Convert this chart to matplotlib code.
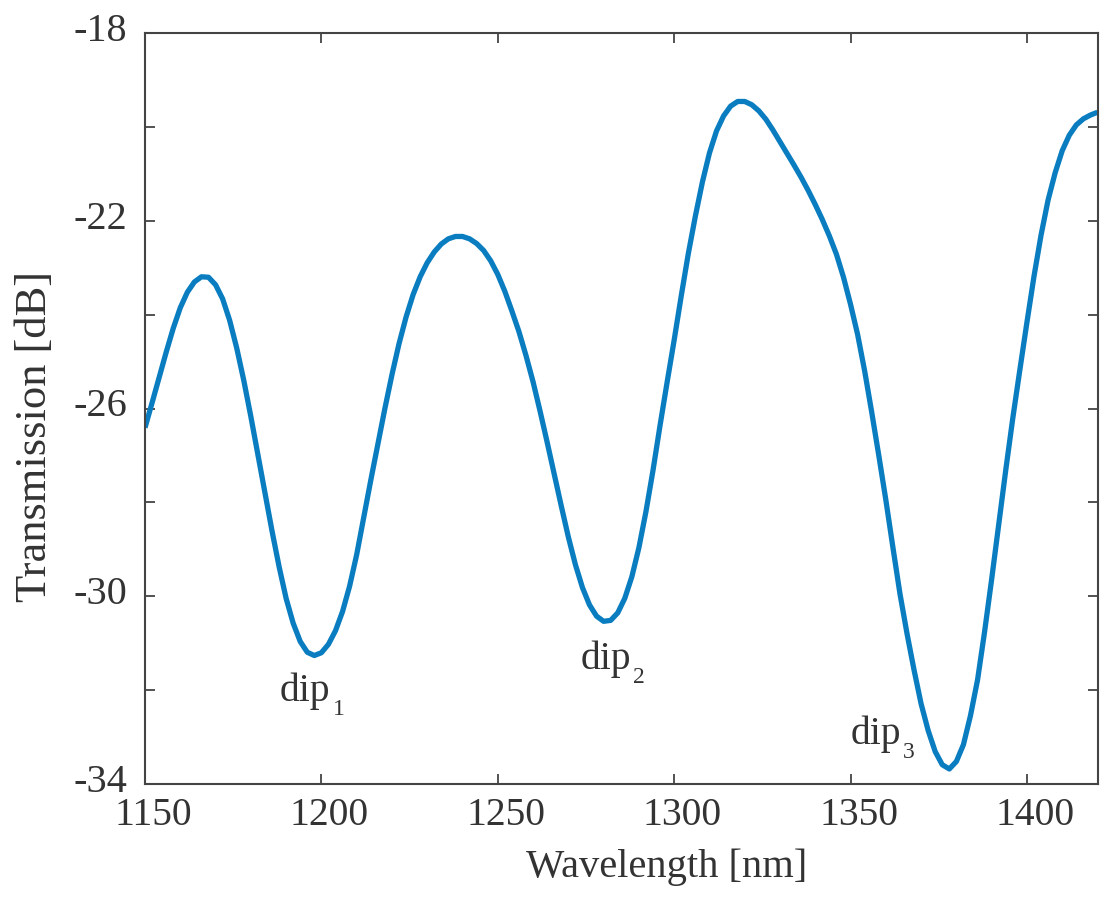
import matplotlib
matplotlib.use("Agg")
import matplotlib.pyplot as plt
from matplotlib.ticker import MultipleLocator
from matplotlib.transforms import ScaledTranslation

wavelength = list(range(1150, 1421, 2))
transmission = [
 -26.41,-25.88,-25.34,-24.80,-24.29,-23.85,-23.52,-23.30,-23.19,-23.20,
 -23.36,-23.66,-24.12,-24.71,-25.40,-26.17,-26.98,-27.80,-28.61,-29.37,
 -30.05,-30.58,-30.97,-31.20,-31.27,-31.21,-31.03,-30.74,-30.33,-29.79,
 -29.12,-28.32,-27.53,-26.76,-26.00,-25.28,-24.62,-24.05,-23.57,-23.19,
 -22.89,-22.66,-22.49,-22.38,-22.33,-22.33,-22.38,-22.48,-22.63,-22.85,
 -23.14,-23.50,-23.92,-24.36,-24.87,-25.43,-26.06,-26.72,-27.40,-28.08,
 -28.74,-29.33,-29.82,-30.19,-30.43,-30.54,-30.52,-30.36,-30.05,-29.59,
 -28.97,-28.20,-27.32,-26.36,-25.44,-24.54,-23.60,-22.70,-21.90,-21.17,
 -20.55,-20.08,-19.76,-19.55,-19.45,-19.45,-19.52,-19.65,-19.83,-20.06,
 -20.31,-20.56,-20.81,-21.07,-21.35,-21.65,-21.97,-22.32,-22.71,-23.20,
 -23.78,-24.42,-25.20,-26.08,-27.00,-27.95,-28.96,-29.95,-30.80,-31.58,
 -32.30,-32.87,-33.32,-33.60,-33.69,-33.53,-33.17,-32.55,-31.79,-30.76,
 -29.64,-28.47,-27.31,-26.20,-25.17,-24.16,-23.18,-22.30,-21.55,-20.97,
 -20.50,-20.17,-19.95,-19.82,-19.74,-19.68]
x_ticks = [1150,1200,1250,1300,1350,1400]
y_ticks = [-18,-22,-26,-30,-34]
dip_x = [1188.3,1273.4,1350.0]
dip_y = [-32.23,-31.55,-33.15]
dip_sub = ["1","2","3"]

plt.rcParams['font.family'] = ['Liberation Serif','DejaVu Serif']

fig = plt.figure(figsize=(11.14,9.0), dpi=100)
ax = fig.add_axes([145/1114, 1-783.5/900, (1097.5-145)/1114, (783.5-33.5)/900])
ink = '#333333'
ax.plot(wavelength, transmission, color='#0a7dc0', lw=3.8, solid_joinstyle='round', solid_capstyle='butt')
ax.set_xlim(1150,1420)
ax.set_ylim(-34,-18)
ax.set_xticks(x_ticks)
ax.set_yticks(y_ticks)
ax.set_yticklabels([str(v) for v in y_ticks])
ax.yaxis.set_minor_locator(MultipleLocator(2))
ax.tick_params(which='both', direction='in', length=7.5, width=1.3, color='#444444', labelcolor=ink, top=True, right=True)
ax.tick_params(axis='x', labelsize=28.5, pad=10)
ax.tick_params(axis='y', labelsize=29, pad=13)
for lab in ax.get_xticklabels():
    lab.set_transform(lab.get_transform() + ScaledTranslation(8/100, 0, fig.dpi_scale_trans))
for lab in ax.get_yticklabels():
    lab.set_transform(lab.get_transform() + ScaledTranslation(0, 6/100, fig.dpi_scale_trans))
for s in ax.spines.values():
    s.set_linewidth(1.5); s.set_color('#444444')
fig.text(667/1114, 1-867/900, 'Wavelength [nm]', fontsize=29.2, color=ink, ha='center', va='center')
fig.text(35/1114, 1-436/900, 'Transmission [dB]', fontsize=32, color=ink, rotation=90, ha='center', va='center')
for x,y,n in zip(dip_x,dip_y,dip_sub):
    ax.text(x,y,'dip',fontsize=28.5,color=ink,ha='left',va='baseline')
    ax.annotate(n,xy=(x,y),xytext=(38,-10.5),textcoords='offset points',fontsize=17,color=ink,ha='left',va='baseline')
fig.savefig('out.png', dpi=100)
